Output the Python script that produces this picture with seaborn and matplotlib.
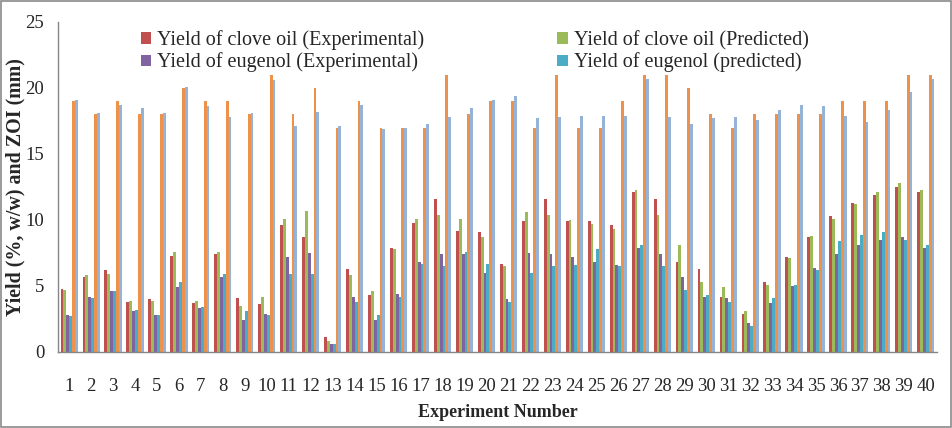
import pandas as pd
import matplotlib.pyplot as plt
import seaborn as sns
import numpy as np
from matplotlib.patches import Rectangle

experiments = list(range(1, 41))

clove_exp = [4.8, 5.7, 6.2, 3.8, 4.0, 7.3, 3.7, 7.4, 4.1, 3.6, 9.6, 8.7, 1.1, 6.3, 4.3, 7.9, 9.8, 11.6, 9.2, 9.1,
             6.7, 9.9, 11.6, 9.9, 9.9, 9.6, 12.1, 11.6, 6.8, 6.3, 4.2, 2.9, 5.3, 7.2, 8.7, 10.3, 11.3, 11.9, 12.5, 12.1]
clove_pred = [4.7, 5.8, 5.9, 3.9, 3.9, 7.6, 3.9, 7.6, 3.5, 4.2, 10.1, 10.7, 0.8, 5.8, 4.6, 7.8, 10.1, 10.4, 10.1, 8.7,
              6.5, 10.6, 10.4, 10.0, 9.7, 9.3, 12.3, 10.4, 8.1, 5.3, 4.9, 3.1, 5.1, 7.1, 8.8, 10.1, 11.2, 12.1, 12.8, 12.3]
eug_exp = [2.8, 4.2, 4.6, 3.1, 2.8, 4.9, 3.3, 5.7, 2.4, 2.9, 7.2, 7.5, 0.6, 4.2, 2.4, 4.4, 6.8, 7.4, 7.4, 6.0,
           4.0, 7.5, 7.4, 7.2, 6.8, 6.6, 7.9, 7.4, 5.7, 4.2, 4.1, 2.2, 3.7, 5.0, 6.4, 7.4, 8.1, 8.5, 8.7, 7.9]
eug_pred = [2.7, 4.1, 4.6, 3.2, 2.8, 5.3, 3.4, 5.9, 3.1, 2.8, 5.9, 5.9, 0.6, 3.8, 2.8, 4.2, 6.7, 6.5, 7.6, 6.7,
            3.8, 6.0, 6.5, 6.6, 7.8, 6.5, 8.1, 6.5, 4.7, 4.3, 3.8, 2.0, 4.1, 5.1, 6.2, 8.4, 8.9, 9.1, 8.5, 8.1]
zoi_exp = [19, 18, 19, 18, 18, 20, 19, 19, 18, 21, 18, 20, 17, 19, 17, 17, 17, 21, 18, 19,
           19, 17, 21, 17, 17, 19, 21, 21, 20, 18, 17, 18, 18, 18, 18, 19, 19, 19, 21, 21]
zoi_pred = [19.1, 18.1, 18.7, 18.5, 18.1, 20.1, 18.6, 17.8, 18.1, 20.6, 17.1, 18.2, 17.1, 18.7, 16.9, 17.0, 17.3, 17.8, 18.5, 19.1,
            19.4, 17.7, 17.8, 17.9, 17.9, 17.9, 20.7, 17.8, 17.3, 17.7, 17.8, 17.6, 18.3, 18.7, 18.6, 17.9, 17.4, 18.3, 19.7, 20.7]

series = {
    'Yield of clove oil (Experimental)': clove_exp,
    'Yield of clove oil (Predicted)': clove_pred,
    'Yield of eugenol (Experimental)': eug_exp,
    'Yield of eugenol (predicted)': eug_pred,
    'ZOI (Experimental)': zoi_exp,
    'ZOI (Predicted)': zoi_pred,
}
df = pd.DataFrame(series)
df['Experiment'] = [str(e) for e in experiments]
long = pd.melt(df, id_vars=['Experiment'], var_name='Series', value_name='Value')

sns.set_style('white')
plt.rcParams['font.family'] = ['Liberation Serif', 'DejaVu Serif']

colors = ['#C0504D', '#9BBB59', '#8064A2', '#4BACC6', '#EE914A', '#95B3D7']
fig, ax = plt.subplots(figsize=(9.53, 4.28), dpi=100)
fig.subplots_adjust(left=0.061, right=0.983, top=0.9486, bottom=0.1776)

sns.barplot(data=long, x='Experiment', y='Value', hue='Series', order=[str(e) for e in experiments],
            hue_order=list(series.keys()), palette=colors, width=0.78, ax=ax, saturation=1,
            linewidth=0, legend=True)

ax.set_ylim(0, 25)
ax.set_xlim(-0.5, 39.5)
ax.set_yticks(np.arange(0, 26, 5))
ax.tick_params(axis='x', length=0, pad=19, labelsize=13.5)
ax.tick_params(axis='y', length=0, pad=10, labelsize=13.5)
for s in ['top', 'right']:
    ax.spines[s].set_visible(False)
for s in ['left', 'bottom']:
    ax.spines[s].set_color('#868686')
    ax.spines[s].set_linewidth(1)

ax.set_xlabel('Experiment Number', fontsize=13, fontweight='bold', labelpad=6)
ax.set_ylabel('Yield (%, w/w) and ZOI (mm)', fontsize=14.4, fontweight='bold', labelpad=0)

handles, labels = ax.get_legend_handles_labels()
idx = [0, 2, 1, 3]
ax.legend([handles[i] for i in idx], [labels[i] for i in idx], ncol=2, loc='upper left',
          bbox_to_anchor=(0.074, 1.03), frameon=False, fontsize=14.5, handlelength=0.5,
          handleheight=0.5, handletextpad=0.3, columnspacing=6.6, labelspacing=0.12)

fig.patches.append(Rectangle((0.001, 0.002), 0.997, 0.995, transform=fig.transFigure,
                             fill=False, edgecolor='#8a8a8a', linewidth=1.2))

plt.savefig('out.png', dpi=100)
